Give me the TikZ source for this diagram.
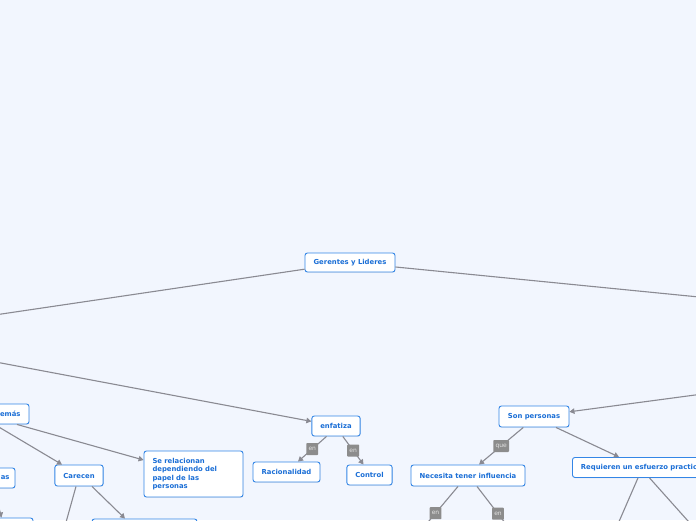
\documentclass[tikz,border=0pt]{standalone}
\usepackage{fontspec}
\setmainfont{DejaVu Sans}
\usetikzlibrary{arrows.meta,shadows}
\definecolor{bgc}{RGB}{242,246,254}
\definecolor{bordc}{RGB}{52,134,230}
\definecolor{txtc}{RGB}{26,110,214}
\definecolor{linec}{RGB}{138,138,146}
\definecolor{lblc}{RGB}{140,140,140}
\definecolor{lbltxt}{RGB}{226,226,226}
\tikzset{
  box/.style={draw=bordc, line width=0.9pt, fill=white, rounded corners=2.5pt,
    text=txtc, font=\fontsize{6.85}{8.5}\selectfont\bfseries, inner xsep=8.5pt, inner ysep=0pt,
    drop shadow={opacity=0.12, shadow xshift=0.4pt, shadow yshift=-0.8pt}},
  conn/.style={draw=linec, line width=1.1pt},
  arr/.style={conn, -{Triangle[length=5pt,width=5.5pt]}},
  lbl/.style={fill=lblc, text=lbltxt, font=\fontsize{6}{7}\selectfont, inner xsep=2.2pt,
    inner ysep=0pt, minimum height=12pt, rounded corners=0.8pt}
}
\begin{document}
\begin{tikzpicture}[x=1pt,y=-1pt]
\useasboundingbox (0,0) rectangle (696,520);
\fill[bgc] (0,0) rectangle (696,520);
\clip (0,0) rectangle (696,520);

% off-picture ends
\coordinate (offL1) at (-100,329);
\coordinate (offR1) at (800,307);
\coordinate (offL2) at (-100,344);
\coordinate (offR2) at (800,381);
\coordinate (offC1) at (58,551);
\coordinate (offN1) at (413,540);
\coordinate (offN2) at (519,541);
\coordinate (offQ1) at (611,540);
\coordinate (offQ2) at (705,540);

% nodes
\node[box, minimum width=90pt, minimum height=19pt] (gyl) at (350,262.5) {Gerentes y Lideres};
\node[box, minimum width=69pt, minimum height=20pt, text width=52pt, align=right] (ademas) at (-5.5,414) {emás};
\node[box, minimum width=48pt, minimum height=20pt] (enfatiza) at (336,426) {enfatiza};
\node[box, minimum width=67pt, minimum height=20pt] (racio) at (286.5,472) {Racionalidad};
\node[box, minimum width=45pt, minimum height=20pt] (control) at (369.5,475) {Control};
\node[box, minimum width=99pt, minimum height=46pt, text width=82pt, align=left, inner xsep=8.5pt] (serel) at (193.5,474) {Se relacionan\\dependiendo del\\papel de las\\personas};
\node[box, minimum width=48pt, minimum height=21pt] (carecen) at (79,475.5) {Carecen};
\node[box, minimum width=42pt, minimum height=20pt, inner xsep=5.5pt, text width=31pt, align=right] (asnode) at (-6,478) {as};
\node[box, minimum width=63pt, minimum height=20pt] (blnode) at (1.5,528) {};
\node[box, minimum width=105pt, minimum height=20pt] (bnode) at (144.5,529) {};
\node[box, minimum width=70pt, minimum height=21pt] (sonp) at (534,416.5) {Son personas};
\node[box, minimum width=114pt, minimum height=21pt] (necesita) at (468,475.5) {Necesita tener influencia};
\node[box, minimum width=160pt, minimum height=20pt, anchor=north west, text width=143pt, align=left] (requieren) at (572,457) {Requieren un esfuerzo practic};

% connectors
\draw[conn] (gyl) -- (offL1);
\draw[conn] (gyl) -- (offR1);
\draw[arr] (offL2) -- (enfatiza);
\draw[arr] (offR2) -- (sonp);
\draw[arr] (ademas.south) -- ([xshift=-17pt]carecen.north);
\draw[arr] ([xshift=22.5pt]ademas.south) -- ([yshift=14pt]serel.west);
\draw[conn] ([xshift=-3pt]carecen.south) -- (offC1);
\draw[arr] ([xshift=13pt]carecen.south) -- ([xshift=-19.5pt]bnode.north);
\draw[arr] (asnode.south) -- (blnode.north);
\draw[arr] ([xshift=-9.5pt]enfatiza.south) -- node[lbl]{en} ([xshift=11.5pt]racio.north);
\draw[arr] ([xshift=6.8pt]enfatiza.south) -- node[lbl]{en} ([xshift=-6pt]control.north);
\draw[arr] ([xshift=-10.7pt]sonp.south) -- node[lbl]{que} ([xshift=11pt]necesita.north);
\draw[arr] ([xshift=22pt]sonp.south) -- ([xshift=47pt]requieren.north west);
\draw[conn] ([xshift=-10pt]necesita.south) -- node[lbl]{en} (offN1);
\draw[conn] ([xshift=9pt]necesita.south) -- node[lbl]{en} (offN2);
\draw[conn] ([xshift=66pt]requieren.south west) -- (offQ1);
\draw[conn] ([xshift=77.5pt]requieren.south west) -- (offQ2);
\end{tikzpicture}
\end{document}
